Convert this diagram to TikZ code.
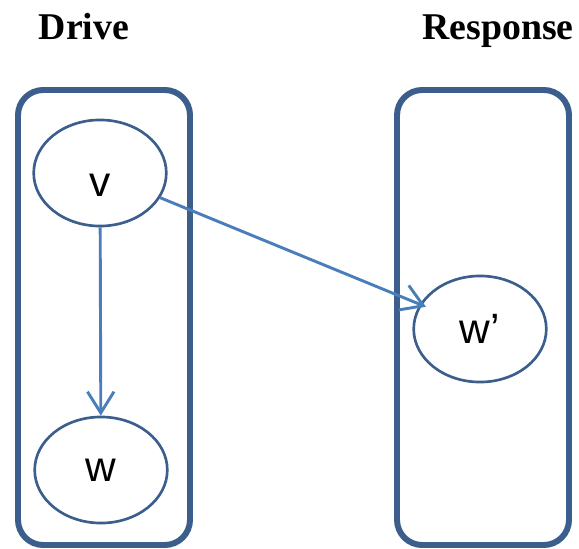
\documentclass[tikz,border=0pt]{standalone}
\usepackage{fontspec}
\setmainfont{Liberation Serif}
\newfontfamily\varfont{Liberation Sans}
\usetikzlibrary{shapes.geometric}
\usetikzlibrary{arrows.meta}
\definecolor{boxblue}{HTML}{3B5E8C}
\definecolor{arrowblue}{HTML}{4A7EBB}
\newcommand*{\px  }{0.0265cm}
\newcommand*{\bwd }{172}
\newcommand*{\bht }{455}
\tikzset{
    group/.style   = {draw=boxblue, line width=4.5pt, rounded corners=19pt},
    var/.style     = {ellipse, draw=boxblue, line width=2pt, minimum width=100pt, minimum height=80pt, inner sep=0pt, font=\varfont\fontsize{32}{38}\selectfont},
    title/.style   = {anchor=base, font=\bfseries\fontsize{28.5}{34}\selectfont},
    link/.style    = {draw=arrowblue, line width=2.2pt, -{Straight Barb[length=16pt, width=20pt, line width=2.2pt]}}
}

\begin{document}
\begin{tikzpicture}[x=\px, y=-\px]
    \useasboundingbox (0,0) rectangle (579,548);
    % the two groups
    \draw [group] (18,90)  rectangle ++(\bwd,\bht);
    \draw [group] (397,90) rectangle ++(\bwd,\bht);
    \node [title] (drive)    at (84,40)  {Drive};
    \node [title] (response) at (498,40) {Response};
        \node [var] (v)  at (100,173) {\raisebox{-18pt}[0pt][0pt]{v}};
        \node [var] (w)  at (101,470) {\raisebox{-1.5pt}{w}};
        \node [var] (wr) at (480,329) {\raisebox{-3pt}{w’}};
    \draw [link] (v) -- (w);
    \draw [link, shorten >=-5pt] (v) -- (wr);
\end{tikzpicture}
\end{document}
